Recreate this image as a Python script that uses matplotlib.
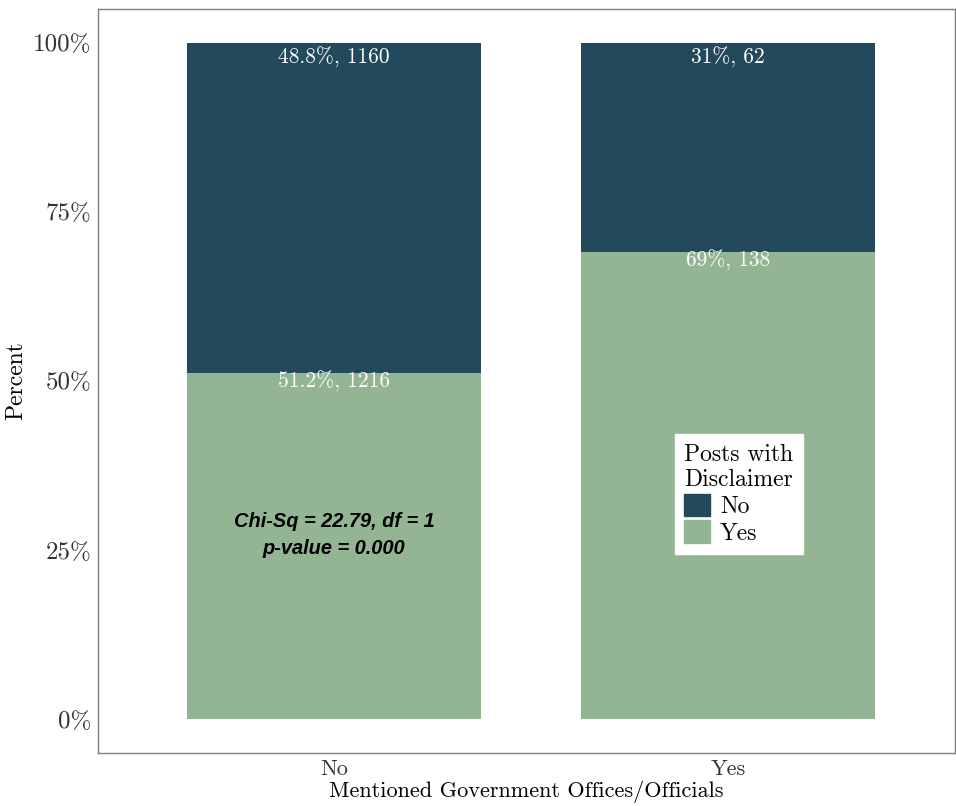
import matplotlib.pyplot as plt
from matplotlib.patches import Patch

# data
groups = ['No', 'Yes']
pct_no = [0.488, 0.31]
pct_yes = [0.512, 0.69]
n_no = [1160, 62]
n_yes = [1216, 138]
lab_no = ['48.8%', '31%']
lab_yes = ['51.2%', '69%']

col_no = '#22495c'
col_yes = '#94b594'

plt.rcParams['font.family'] = ['cmr10', 'DejaVu Serif']
plt.rcParams['mathtext.fontset'] = 'cm'

fig = plt.figure(figsize=(9.56, 8.06), dpi=100)
ax = fig.add_axes([98 / 956, 1 - 753 / 806, 857 / 956, 744 / 806])

x = [1, 2]
ax.bar(x, pct_yes, width=0.746, color=col_yes)
ax.bar(x, pct_no, width=0.746, bottom=pct_yes, color=col_no)

# segment labels near top of each segment
for i in range(len(groups)):
    ax.text(x[i], 1.0 - 0.021, f'{lab_no[i]}, {n_no[i]}', color='white',
            ha='center', va='center', fontsize=15.5)
    ax.text(x[i], pct_yes[i] - 0.012, f'{lab_yes[i]}, {n_yes[i]}', color='white',
            ha='center', va='center', fontsize=15.5)

ax.text(1, 0.272, 'Chi-Sq = 22.79, df = 1\np-value = 0.000', ha='center', va='center',
        fontsize=14.4, fontweight='bold', fontstyle='italic', family='Liberation Sans',
        linespacing=1.55)

ax.set_xlim(0.401, 2.576)
ax.set_ylim(-0.05, 1.05)
ax.set_xticks(x)
ax.set_xticklabels(groups, fontsize=16)
ax.set_yticks([0, 0.25, 0.5, 0.75, 1.0])
ax.set_yticklabels(['0%', '25%', '50%', '75%', '100%'], fontsize=18, color='#333333')
for t in ax.get_xticklabels():
    t.set_color('#333333')
ax.tick_params(axis='y', length=0, pad=5)
ax.tick_params(axis='x', length=0, pad=5)
ax.set_xlabel('Mentioned Government Offices/Officials', fontsize=16, labelpad=1)
ax.set_ylabel('Percent', fontsize=17, labelpad=4)
for s in ax.spines.values():
    s.set_color('#7f7f7f')
    s.set_linewidth(1.0)

handles = [Patch(color=col_no, label='No'), Patch(color=col_yes, label='Yes')]
leg = ax.legend(handles=handles, title='Posts with\nDisclaimer', fontsize=17,
                title_fontsize=17, loc='center', bbox_to_anchor=(0.748, 0.348),
                bbox_transform=ax.transAxes, frameon=True, fancybox=False,
                edgecolor='white', framealpha=1, handlelength=1.1, handleheight=1.1,
                handletextpad=0.4, labelspacing=0.1, borderpad=0.4)
leg._legend_box.align = 'left'

fig.savefig('out.png', dpi=100)
